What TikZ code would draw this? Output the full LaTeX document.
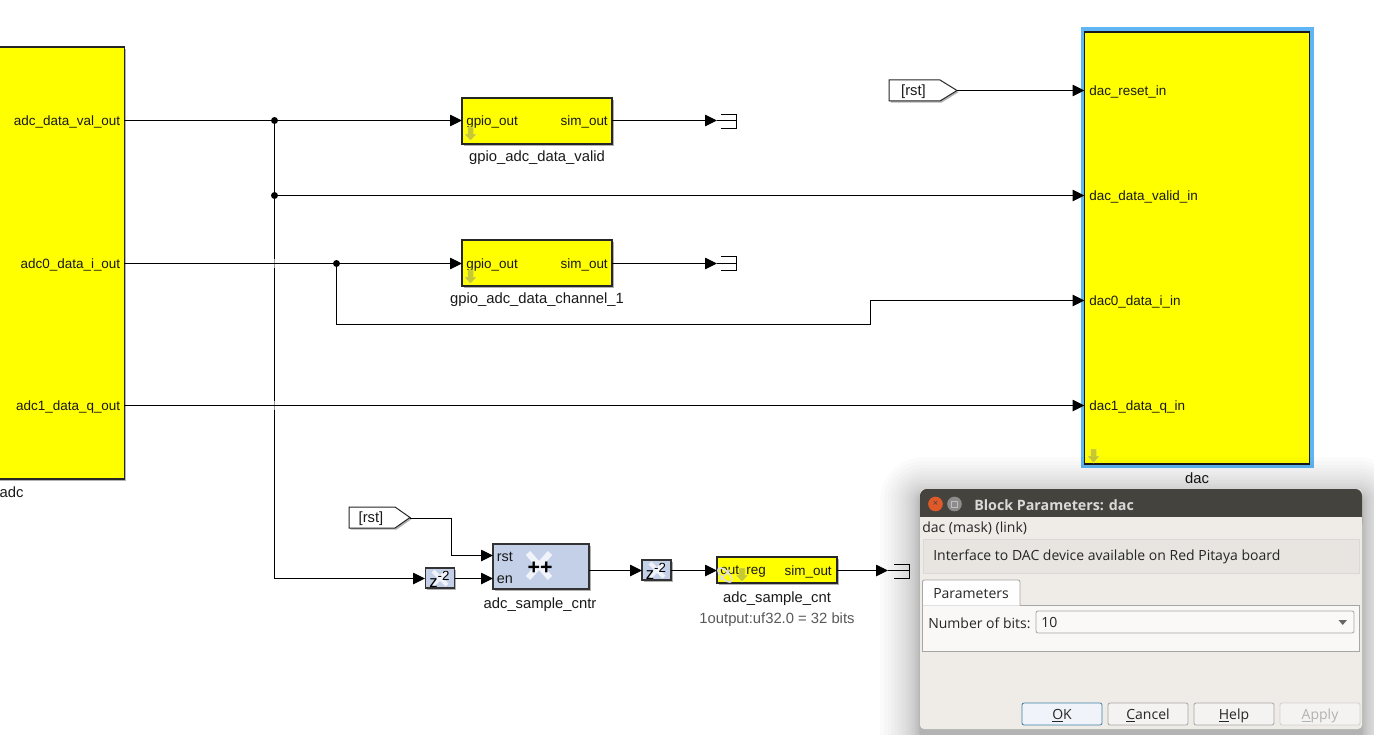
\documentclass[tikz,border=0pt]{standalone}
\usepackage{fontspec}
\setmainfont{Liberation Sans}
\newfontfamily\uifont{Open Sans}
\usetikzlibrary{arrows.meta,shadows,shapes.geometric}
\definecolor{yel}{RGB}{255,255,0}
\definecolor{blockblue}{HTML}{C3D0E8}
\definecolor{sel}{HTML}{5FB6F5}
\definecolor{winbg}{HTML}{EFEBE7}
\definecolor{titlebar}{HTML}{45433D}
\definecolor{olive}{HTML}{C8C832}
\definecolor{closec}{HTML}{E0592A}
\definecolor{okblue}{HTML}{3F7FA8}
\tikzset{
  x=0.75pt,y=-0.75pt,
  txt/.style={inner sep=0pt,yshift=-1pt,font=\fontsize{10.1pt}{11pt}\selectfont,text=black!90},
  lbl/.style={txt,anchor=center,font=\fontsize{11.1pt}{12pt}\selectfont},
  portl/.style={txt,anchor=west},
  portr/.style={txt,anchor=east},
  shad/.style={drop shadow={shadow xshift=1.2pt,shadow yshift=-1.2pt,fill=black,opacity=.3}},
  yblock/.style={draw=black!85,line width=1pt,fill=yel,inner sep=0pt,shad},
  bblock/.style={draw=black!80,line width=1pt,fill=blockblue,inner sep=0pt,shad},
  wire/.style={line width=0.75pt,draw=black,line join=miter},
  arr/.style={wire,-{Triangle[length=9pt,width=8.6pt]}},
  dot/.style={circle,fill=black,inner sep=0pt,minimum size=5.2pt},
  gotobox/.style={draw=black!85,line width=.75pt,fill=white,shad},
  term/.style={line width=.75pt,draw=black},
  ui/.style={inner sep=0pt,yshift=-1pt,font=\uifont\fontsize{10.5pt}{12pt}\selectfont,text=black!85},
  uibtn/.style={draw=black!35,rounded corners=1.5pt,fill=winbg!60!white,line width=.6pt,minimum width=60pt,minimum height=16.5pt,inner sep=0pt,text height=7.6pt,text depth=0pt,font=\uifont\fontsize{10.5pt}{12pt}\selectfont,text=black!85},
  dnarrow/.style={fill=olive,draw=yel!70!white,line width=.3pt},
  logo/.style={line width=#1,draw=white!75!blockblue,line cap=butt},
}
\newcommand{\darrow}[2]{\filldraw[dnarrow] (#1-3,#2-6)--(#1+3,#2-6)--(#1+3,#2+1)--(#1+6.5,#2+1)--(#1,#2+8)--(#1-6.5,#2+1)--(#1-3,#2+1)--cycle;}
\begin{document}
\begin{tikzpicture}
\useasboundingbox (0,0) rectangle (1374,735);
\clip (0,0) rectangle (1374,735);
\fill[white] (0,0) rectangle (1374,735);

% adc
\node[yblock,minimum width=101pt,minimum height=324pt] (adc) at (57,263) {};
\node[portr] (adcvl) at (120.5,120.7) {adc\_data\_val\_out};
\node[portr] (adcil) at (120.5,263.5) {adc0\_data\_i\_out};
\node[portr] (adcql) at (120.5,405.7) {adc1\_data\_q\_out};
\node[lbl] (adcn) at (11.5,491.3) {adc};
\coordinate (adcv) at (124,120.5);
\coordinate (adci) at (124,263.5);
\coordinate (adcq) at (124,405.5);

% gpio blocks
\node[yblock,minimum width=112.5pt,minimum height=34.5pt] (g1) at (537,121) {};
\node[portl] (g1a) at (466,120.5) {gpio\_out};
\node[portr] (g1b) at (608,120.5) {sim\_out};
\darrow{470.5}{133}
\node[lbl] (g1n) at (537,156) {gpio\_adc\_data\_valid};
\node[yblock,minimum width=112.5pt,minimum height=34.5pt] (g2) at (537,263) {};
\node[portl] (g2a) at (466,263.5) {gpio\_out};
\node[portr] (g2b) at (608,263.5) {sim\_out};
\darrow{470.5}{276}
\node[lbl] (g2n) at (537,298) {gpio\_adc\_data\_channel\_1};
\coordinate (g1i) at (462,120.5);
\coordinate (g1o) at (612,120.5);
\coordinate (g2i) at (462,263.5);
\coordinate (g2o) at (612,263.5);

% dac
\fill[sel] (1080.5,27.5) rectangle (1313.5,467.5);
\node[draw=black!90,line width=1pt,fill=yel,inner sep=0pt,minimum width=168.75pt,minimum height=324pt] (dac) at (1197,248) {};
\node[portl] (dl1) at (1089,90.7) {dac\_reset\_in};
\node[portl] (dl2) at (1089,195.7) {dac\_data\_valid\_in};
\node[portl] (dl3) at (1089,300.7) {dac0\_data\_i\_in};
\node[portl] (dl4) at (1089,405.7) {dac1\_data\_q\_in};
\darrow{1093.5}{455}
\node[lbl] (dacn) at (1197,476.5) {dac};
\coordinate (d1) at (1084.5,90.5);
\coordinate (d2) at (1084.5,195.5);
\coordinate (d3) at (1084.5,300.5);
\coordinate (d4) at (1084.5,405.5);

% gotos
\filldraw[gotobox] (889,80)--(940,80)--(957,90.5)--(940,101)--(889,101)--cycle;
\node[lbl] (g3) at (913.5,90) {[rst]};
\coordinate (g3o) at (957,90.5);
\filldraw[gotobox] (349,507)--(395,507)--(410,517.5)--(395,528)--(349,528)--cycle;
\node[lbl] (g4) at (371,517.5) {[rst]};
\coordinate (g4o) at (410,518.5);

% counter
\node[bblock,minimum width=72pt,minimum height=33.7pt] (cnt) at (541,566.5) {};
\draw[logo=4.5pt] (528,553)--(550,578) (550,553)--(528,578);
\node[lbl,font=\bfseries\fontsize{16pt}{16pt}\selectfont,text=black] (pp) at (540,567) {++};
\node[portl,font=\fontsize{10.8pt}{12pt}\selectfont] (c1) at (496.5,556) {rst};
\node[portl,font=\fontsize{10.8pt}{12pt}\selectfont] (c2) at (496.5,578.5) {en};
\node[lbl] (cn) at (540,603) {adc\_sample\_cntr};
\coordinate (ci1) at (493,555.5);
\coordinate (ci2) at (493,578.5);
\coordinate (co) at (589,570.5);

% delays
\node[bblock,minimum width=22pt,minimum height=15pt] (z1) at (440,578) {};
\draw[logo=3pt] (433,571)--(447,585) (447,571)--(433,585);
\node[txt,anchor=center,font=\fontsize{12.5pt}{12pt}\selectfont,text=black] (z1t) at (439.5,578) {z\raisebox{.4em}{\fontsize{10pt}{10pt}\selectfont -2}};
\node[bblock,minimum width=21.75pt,minimum height=15pt] (z2) at (656.5,570) {};
\draw[logo=3pt] (650,563)--(664,577) (664,563)--(650,577);
\node[txt,anchor=center,font=\fontsize{12.5pt}{12pt}\selectfont,text=black] (z2t) at (656,570) {z\raisebox{.4em}{\fontsize{10pt}{10pt}\selectfont -2}};
\coordinate (z1i) at (425,578.5);
\coordinate (z1o) at (455,578.5);
\coordinate (z2i) at (642,570.5);
\coordinate (z2o) at (671,570.5);

% sample count
\node[yblock,minimum width=90pt,minimum height=19.5pt] (sc) at (777,570) {};
\node[portl] (sca) at (720,570.5) {out\_reg};
\node[portr] (scb) at (832,570.5) {sim\_out};
\darrow{742}{574}
\draw[line width=1.3pt,draw=white!75!gray,rotate around={-45:(725,575)}] (725,575) ellipse [x radius=9,y radius=4];
\draw[line width=1.3pt,draw=white!75!gray] (720,580)--(730,570);
\node[lbl] (scn) at (777,597) {adc\_sample\_cnt};
\node[lbl,text=black!65] (scd) at (777,618) {1output:uf32.0 = 32 bits};
\coordinate (sci) at (717,570.5);
\coordinate (sco) at (837,570.5);

% terminators
\coordinate (t1) at (717,120.5);
\coordinate (t2) at (717,263.5);
\coordinate (t3) at (888,570.5);
\coordinate (t1e) at (736.5,120.5);
\coordinate (t2e) at (736.5,263.5);
\coordinate (t3e) at (909.5,570.5);
\draw[term] (721,114.5)--(736.5,114.5)--(736.5,128.5)--(721,128.5);
\draw[term] (721,256.5)--(736.5,256.5)--(736.5,270.5)--(721,270.5);
\draw[term] (894,564.5)--(909.5,564.5)--(909.5,578.5)--(894,578.5);

% junctions
\node[dot] (j1) at (274.5,120.5) {};
\node[dot] (j2) at (274.5,195.5) {};
\node[dot] (j3) at (336.5,263.5) {};
\coordinate (bend) at (274.5,578.5);

% connectors
\draw[wire] (j1)--(bend);
\fill[white,opacity=.6] (273,259) rectangle (276,268);
\fill[white,opacity=.6] (273,401) rectangle (276,410);
\draw[arr] (bend)--(z1i);
\draw[arr] (adcv)--(g1i);
\draw[arr] (j2)--(d2);
\draw[arr] (adci)--(g2i);
\draw[arr] (j3.center)--(336.5,324.5)--(870.5,324.5)--(870.5,300.5)--(d3);
\draw[arr] (adcq)--(d4);
\draw[arr] (g1o)--(t1);
\draw[arr] (g2o)--(t2);
\draw[wire] (t1)--(t1e);
\draw[wire] (t2)--(t2e);
\draw[arr] (g3o)--(d1);
\draw[arr] (g4o)--(451.5,518.5)--(451.5,555.5)--(ci1);
\draw[arr] (z1o)--(ci2);
\draw[arr] (co)--(z2i);
\draw[arr] (z2o)--(sci);
\draw[arr] (sco)--(t3);
\draw[wire] (t3)--(t3e);

% dialog shadow
\foreach \k in {20,19,...,1}{
  \pgfmathsetmacro\i{\k*\k/10}
  \pgfmathsetlengthmacro\rc{(\i+4)*0.75pt}
  \fill[black,opacity=.014,rounded corners=\rc] (920-\i,489-\i+8) rectangle (1362+\i,729+\i+8);
}

% dialog
\fill[winbg,rounded corners=3pt] (920,489) rectangle (1362,729);
\fill[titlebar,rounded corners=5pt] (920,489) rectangle (1362,530);
\fill[winbg] (920,517) rectangle (1362,726);
\node[circle,fill=closec,inner sep=0pt,minimum size=11pt,font=\uifont\fontsize{7pt}{7pt}\selectfont,text=titlebar] (closeb) at (935.5,504) {×};
\node[circle,fill=black!45,inner sep=0pt,minimum size=11pt] (maxb) at (954.5,504) {};
\draw[black!25,line width=.7pt] (951.5,501) rectangle (957.5,507);
\node[ui,anchor=west,font=\uifont\bfseries\fontsize{10.7pt}{12pt}\selectfont,text=white!85!black] (title) at (974,503.5) {Block Parameters: dac};
\node[ui,anchor=west] (mask) at (922,527) {dac (mask) (link)};
\node[draw=black!15,fill=winbg!97!black,line width=.6pt,minimum width=327.5pt,minimum height=25.5pt,inner sep=0pt] (desc) at (1141.5,556) {};
\node[ui,anchor=west] (desct) at (933,555) {Interface to DAC device available on Red Pitaya board};
\node[draw=black!35,fill=winbg!35!white,line width=.6pt,minimum width=328pt,minimum height=34.5pt,inner sep=0pt] (panel) at (1141,628) {};
\filldraw[draw=black!35,fill=white!97!winbg,line width=.6pt,rounded corners=1.5pt] (922.5,605.5)--(922.5,580)--(1020,580)--(1020,605.5);
\node[ui] (tab) at (971,592.5) {Parameters};
\node[ui,anchor=west] (bits) at (928,621.5) {Number of bits:};
\node[draw=black!35,fill=winbg!30!white,line width=.6pt,rounded corners=1.5pt,minimum width=238.5pt,minimum height=16.5pt,inner sep=0pt] (combo) at (1195,622) {};
\node[ui,anchor=west] (ten) at (1041,621.5) {10};
\fill[black!60] (1338.5,620)--(1347,620)--(1342.7,625)--cycle;
\node[uibtn,draw=okblue,fill=blockblue!25!white] (ok) at (1062,714) {\underline{O}K};
\node[uibtn] (cancel) at (1148,714) {\underline{C}ancel};
\node[uibtn] (help) at (1234,714) {\underline{H}elp};
\node[uibtn,draw=black!18,text=black!30] (apply) at (1320,714) {\underline{A}pply};
\end{tikzpicture}
\end{document}
